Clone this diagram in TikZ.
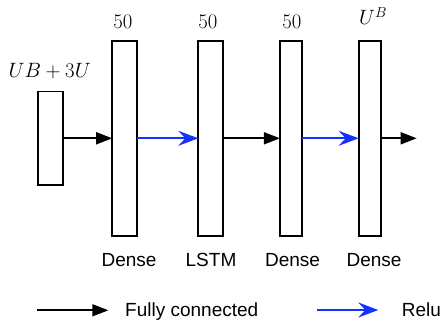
\documentclass[tikz,border=0pt]{standalone}
\usepackage{fontspec}
\setsansfont{Liberation Sans}
\usetikzlibrary{arrows.meta}
\definecolor{relublue}{RGB}{20,50,255}
\begin{document}
\begin{tikzpicture}[x=1pt,y=-1pt,
  layer/.style={draw,line width=1.8pt,inner sep=0pt,outer sep=0pt,minimum height=194.4pt},
  dim/.style={font=\fontsize{20}{24}\selectfont,anchor=base,inner sep=0pt},
  lname/.style={font=\sffamily\fontsize{19}{23}\selectfont,anchor=base,inner sep=0pt},
  fc/.style={line width=1.6pt,-{Triangle[length=16pt,width=12pt]}},
  relu/.style={line width=1.6pt,relublue,-{Stealth[length=20pt,width=15pt,inset=7pt]}}]
\useasboundingbox (0,0) rectangle (440,331);
\node[layer,minimum width=25pt,minimum height=93.7pt] (in) at (50.5,138.3) {};
\node[layer,minimum width=25pt] (d1) at (124.7,138.5) {};
\node[layer,minimum width=25pt] (l2) at (210.8,138.5) {};
\node[layer,minimum width=21.7pt] (d3) at (290.8,138.5) {};
\node[layer,minimum width=22.3pt] (d4) at (369.8,138.5) {};
\coordinate (out) at (416.7,138.3);
\node[dim] (tin) at (49.7,78) {$UB+3U$};
\node[dim] (t1) at (123,29) {$50$};
\node[dim] (t2) at (208,29) {$50$};
\node[dim] (t3) at (292,29) {$50$};
\node[dim] (t4) at (373,25) {$U^B$};
\node[lname] (n1) at (129,267) {Dense};
\node[lname] (n2) at (211,267) {LSTM};
\node[lname] (n3) at (292.5,267) {Dense};
\node[lname] (n4) at (374,267) {Dense};
\draw[fc] (in.east |- 0,138.3) -- (d1.west |- 0,138.3);
\draw[relu] (d1.east |- 0,138.3) -- (l2.west |- 0,138.3);
\draw[fc] (l2.east |- 0,138.3) -- (d3.west |- 0,138.3);
\draw[relu] (d3.east |- 0,138.3) -- (d4.west |- 0,138.3);
\draw[fc] (d4.east |- 0,138.3) -- (out);
\coordinate (la) at (37,310.3);
\coordinate (lb) at (108.3,310.3);
\coordinate (lc) at (317.3,310);
\coordinate (ld) at (378.3,310);
\draw[fc] (la) -- (lb);
\draw[relu] (lc) -- (ld);
\node[lname,anchor=base west] (fctext) at (125,316.7) {Fully connected};
\node[lname,anchor=base west] (relutext) at (401.7,317) {Relu};
\end{tikzpicture}
\end{document}
